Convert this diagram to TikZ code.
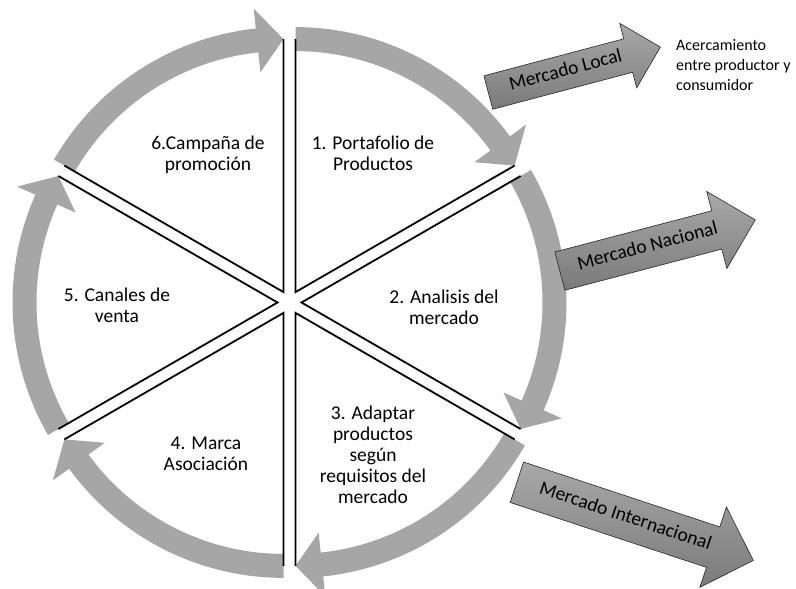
\documentclass[tikz,border=0pt]{standalone}
\usepackage{fontspec}
\setmainfont{Carlito}
\usetikzlibrary{shapes.arrows}

\begin{document}
\begin{tikzpicture}[x=1pt,y=1pt]
\tikzset{
  steplabel/.style={align=center,font=\fontsize{19.5}{21}\selectfont,inner sep=0pt},
  notelabel/.style={align=left,font=\fontsize{16}{20}\selectfont,inner sep=0pt},
  cycleband/.style={fill=black!35,draw=none},
  sliceedge/.style={draw=black,line width=1.8pt,line join=miter},
  marketarrow/.style={single arrow,draw=black!85,line width=0.6pt,
    top color=black!34,bottom color=black!52,
    single arrow tip angle=90,text height=12pt,text depth=4pt,inner xsep=4pt,
    font=\fontsize{19.5}{21}\selectfont}
}
\useasboundingbox (0,0) rectangle (796,589);
\coordinate (n_c) at (289.5,286.5);
% six slices, each pushed out along its bisector, with its band arrow
\foreach \b in {60,0,-60,-120,180,120}{
  \pgfmathsetmacro\ta{\b+30}
  \pgfmathsetmacro\tb{\b-24}
  \pgfmathsetmacro\tc{\b-30}
  \begin{scope}[shift={(n_c)},shift={(\b:12)}]
    \fill[cycleband] (\ta:265) arc[start angle=\ta,end angle=\tb,radius=265]
      -- (\tb:285) -- (\tc:253) -- (\tb:221) -- (\tb:241)
      arc[start angle=\tb,end angle=\ta,radius=241] -- cycle;
    \draw[sliceedge] (\ta:253) -- (0,0) -- (\tc:253);
  \end{scope}
}
\node[steplabel] (n_portafolio) at (373,436) {1. Portafolio de\\Productos};
\node[steplabel] (n_analisis) at (444,282) {2. Analisis del\\mercado};
\node[steplabel] (n_adaptar) at (373,134) {3. Adaptar\\productos\\según\\requisitos del\\mercado};
\node[steplabel] (n_marca) at (206,135) {4. Marca\\Asociación};
\node[steplabel] (n_canales) at (117,284) {5. Canales de\\venta};
\node[steplabel] (n_campana) at (208,434) {6.Campaña de\\promoción};
% market arrows
\node[marketarrow,rotate=14.8,minimum height=178,inner ysep=9pt,
  single arrow head extend=16pt] (n_local) at (566,517) {Mercado Local};
\node[marketarrow,rotate=14.7,minimum height=202,inner ysep=11.5pt,
  single arrow head extend=20pt] (n_nacional) at (648,341) {Mercado Nacional};
\node[marketarrow,rotate=-18.3,minimum height=249,inner ysep=13pt,
  single arrow head extend=21pt] (n_internacional) at (625,71) {Mercado Internacional};
\node[notelabel,anchor=west] (n_acercamiento) at (676,524) {Acercamiento\\entre productor y\\consumidor};
\end{tikzpicture}
\end{document}
